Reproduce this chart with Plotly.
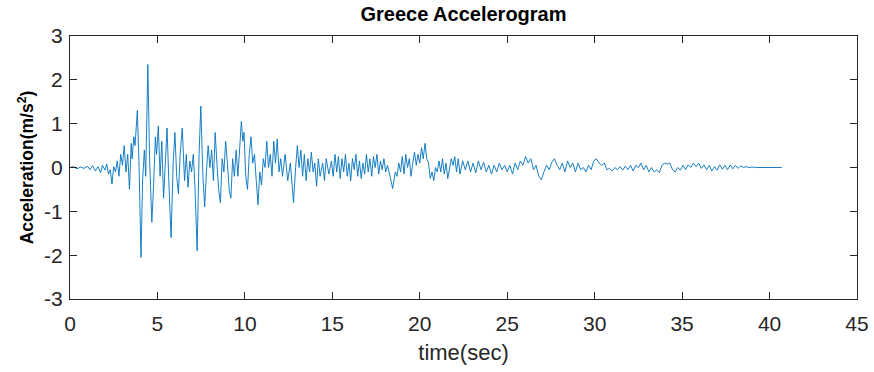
import plotly.graph_objects as go

# (time in s, acceleration in m/s^2)
samples = [
    (0.0, 0.0), (0.2, 0.02), (0.4, -0.03), (0.6, 0.01), (0.8, -0.02), (1.0, 0.03), (1.15, -0.05),
    (1.3, 0.04), (1.45, -0.08), (1.6, 0.02), (1.75, -0.12), (1.85, 0.05), (2.0, -0.06), (2.1, 0.08),
    (2.2, -0.15), (2.3, -0.05), (2.4, -0.38), (2.5, 0.02), (2.6, -0.1), (2.7, 0.15), (2.8, -0.2),
    (2.9, 0.3), (3.0, 0.05), (3.1, 0.5), (3.2, -0.1), (3.3, 0.3), (3.4, -0.5), (3.5, 0.55),
    (3.55, 0.2), (3.65, 0.7), (3.72, 0.5), (3.85, 1.3), (3.95, 0.0), (4.06, -2.05), (4.15, -0.3),
    (4.25, 0.4), (4.33, -0.2), (4.45, 2.35), (4.55, 0.2), (4.68, -1.25), (4.78, -0.4), (4.88, 0.7),
    (4.95, 0.3), (5.05, 0.95), (5.15, -0.2), (5.25, 0.6), (5.35, -0.7), (5.45, 0.3), (5.55, 0.9),
    (5.65, -0.3), (5.78, -1.6), (5.9, 0.1), (6.0, 0.8), (6.1, -0.2), (6.2, -0.6), (6.3, 0.3),
    (6.42, 0.9), (6.55, -0.3), (6.65, 0.3), (6.75, -0.45), (6.85, 0.15), (6.95, -0.1), (7.05, 0.3),
    (7.15, -0.5), (7.27, -1.9), (7.38, 0.3), (7.48, 1.4), (7.6, -0.2), (7.7, -0.9), (7.8, -0.1),
    (7.9, 0.5), (8.0, 0.0), (8.1, 0.4), (8.2, -0.3), (8.3, 0.8), (8.4, 0.1), (8.5, -0.5),
    (8.6, -0.8), (8.7, 0.2), (8.8, -0.1), (8.9, 0.6), (9.0, 0.1), (9.1, -0.5), (9.2, -0.7),
    (9.3, 0.2), (9.4, -0.2), (9.5, 0.4), (9.6, -0.2), (9.7, 0.5), (9.8, 1.05), (9.88, 0.6),
    (9.95, 0.8), (10.05, -0.2), (10.15, -0.5), (10.25, 0.3), (10.35, 0.7), (10.45, 0.1), (10.55, 0.3),
    (10.65, -0.3), (10.75, -0.85), (10.85, -0.1), (10.95, -0.4), (11.05, 0.2), (11.15, 0.0), (11.25, 0.6),
    (11.35, 0.0), (11.45, 0.3), (11.55, -0.2), (11.65, 0.6), (11.75, 0.1), (11.85, 0.65), (11.95, -0.1),
    (12.05, 0.2), (12.15, -0.2), (12.3, 0.3), (12.45, -0.3), (12.6, 0.1), (12.78, -0.8), (12.9, 0.0),
    (13.0, 0.5), (13.1, 0.0), (13.2, 0.4), (13.3, -0.2), (13.4, 0.3), (13.5, -0.3), (13.6, 0.2),
    (13.7, -0.1), (13.8, 0.35), (13.9, -0.1), (14.0, 0.1), (14.1, -0.43), (14.2, 0.2), (14.3, -0.2),
    (14.45, 0.1), (14.55, -0.3), (14.65, 0.2), (14.8, -0.15), (14.95, 0.15), (15.05, -0.2), (15.15, 0.3),
    (15.25, -0.1), (15.35, 0.25), (15.45, -0.25), (15.55, 0.2), (15.65, -0.1), (15.75, 0.3), (15.85, -0.2),
    (15.95, 0.1), (16.05, -0.3), (16.15, 0.2), (16.25, -0.05), (16.35, 0.3), (16.45, -0.2), (16.55, 0.15),
    (16.65, -0.25), (16.75, 0.1), (16.85, -0.15), (16.95, 0.3), (17.05, -0.1), (17.15, 0.2), (17.25, -0.2),
    (17.35, 0.25), (17.45, 0.0), (17.55, 0.3), (17.65, -0.15), (17.75, 0.15), (17.85, -0.05), (17.95, 0.2),
    (18.05, -0.1), (18.15, 0.05), (18.3, -0.2), (18.45, -0.48), (18.6, -0.1), (18.7, -0.2), (18.8, 0.1),
    (18.9, -0.1), (19.0, 0.25), (19.1, -0.15), (19.2, 0.3), (19.3, 0.0), (19.4, 0.2), (19.5, -0.2),
    (19.6, 0.1), (19.7, 0.35), (19.8, 0.05), (19.9, 0.3), (20.0, 0.1), (20.1, 0.45), (20.2, 0.2),
    (20.3, 0.55), (20.4, 0.2), (20.5, 0.1), (20.6, -0.25), (20.7, -0.1), (20.8, -0.3), (20.9, 0.0),
    (21.0, -0.1), (21.1, 0.15), (21.2, -0.1), (21.3, 0.2), (21.4, -0.15), (21.5, 0.1), (21.6, -0.25),
    (21.7, 0.0), (21.8, 0.2), (21.9, 0.05), (22.0, 0.25), (22.1, -0.1), (22.2, 0.2), (22.3, -0.15),
    (22.45, 0.15), (22.6, -0.05), (22.75, 0.15), (22.9, -0.1), (23.05, 0.1), (23.2, -0.12), (23.35, 0.15),
    (23.5, -0.05), (23.65, 0.12), (23.8, -0.1), (23.95, 0.05), (24.1, -0.15), (24.25, 0.05), (24.4, -0.1),
    (24.55, 0.1), (24.7, -0.05), (24.85, 0.05), (25.0, -0.1), (25.15, 0.05), (25.3, -0.15), (25.45, 0.1),
    (25.6, -0.05), (25.75, 0.15), (25.9, 0.05), (26.05, 0.25), (26.2, 0.1), (26.35, 0.2), (26.5, -0.05),
    (26.65, 0.05), (26.8, -0.2), (26.95, -0.28), (27.1, -0.1), (27.25, 0.05), (27.4, -0.05), (27.55, 0.12),
    (27.7, 0.2), (27.85, 0.05), (28.0, -0.05), (28.15, 0.1), (28.3, -0.1), (28.45, 0.15), (28.6, 0.0),
    (28.75, 0.1), (28.9, -0.1), (29.05, 0.1), (29.2, -0.05), (29.35, 0.0), (29.5, -0.1), (29.65, 0.05),
    (29.8, -0.05), (29.95, 0.15), (30.1, 0.2), (30.25, 0.1), (30.4, 0.05), (30.55, 0.1), (30.7, -0.05),
    (30.85, -0.02), (31.0, -0.08), (31.15, 0.0), (31.3, -0.05), (31.45, 0.02), (31.6, -0.06), (31.75, 0.03),
    (31.9, -0.05), (32.05, 0.05), (32.2, -0.08), (32.35, 0.05), (32.5, 0.0), (32.65, 0.1), (32.8, -0.05),
    (32.95, 0.05), (33.1, -0.1), (33.25, 0.0), (33.4, -0.1), (33.55, -0.05), (33.7, -0.12), (33.85, 0.05),
    (34.0, 0.1), (34.15, 0.08), (34.3, 0.1), (34.45, -0.05), (34.6, -0.1), (34.75, 0.0), (34.9, -0.06),
    (35.05, 0.05), (35.2, -0.05), (35.35, 0.06), (35.5, 0.0), (35.65, 0.1), (35.8, 0.02), (35.95, 0.1),
    (36.1, -0.02), (36.25, 0.06), (36.4, -0.05), (36.55, 0.05), (36.7, -0.08), (36.85, 0.02), (37.0, -0.06),
    (37.15, 0.06), (37.3, -0.04), (37.45, 0.05), (37.6, -0.05), (37.75, 0.06), (37.9, -0.03), (38.05, 0.05),
    (38.2, -0.02), (38.35, 0.04), (38.5, 0.0), (38.65, 0.02), (38.8, 0.0), (39.0, 0.01), (39.3, 0.0),
    (40.7, 0.0),
]
time_s = [p[0] for p in samples]
accel = [p[1] for p in samples]

x_ticks = [0, 5, 10, 15, 20, 25, 30, 35, 40, 45]
y_ticks = [-3, -2, -1, 0, 1, 2, 3]

FONT = "Liberation Sans, Arial, sans-serif"

fig = go.Figure(go.Scatter(x=time_s, y=accel, mode="lines",
                           line=dict(color="#0072BD", width=0.9), showlegend=False))

axis_common = dict(showline=True, linecolor="#262626", linewidth=1, mirror="ticks",
                   ticks="inside", ticklen=7, tickcolor="#262626", showgrid=False,
                   zeroline=False, tickfont=dict(family=FONT, size=21, color="#262626"))

fig.update_layout(
    width=874, height=372,
    margin=dict(l=70, r=17, t=36, b=73, autoexpand=False),
    plot_bgcolor="white", paper_bgcolor="white",
    title=dict(text="<b>Greece Accelerogram</b>", x=0.5, xref="paper", xanchor="center",
               y=1 - 14 / 372, yref="container", yanchor="middle",
               font=dict(family=FONT, size=20, color="black")),
    xaxis=dict(range=[0, 45], tickvals=x_ticks, ticktext=[str(v) for v in x_ticks],
               ticklabelstandoff=6,
               title=dict(text="time(sec)", standoff=10,
                          font=dict(family=FONT, size=22, color="#262626")),
               **axis_common),
    yaxis=dict(range=[-3, 3], tickvals=y_ticks, ticktext=[str(v) for v in y_ticks],
               ticklabelstandoff=2,
               title=dict(text="<b>Acceleration(m/s<sup>2</sup>)</b>", standoff=5,
                          font=dict(family=FONT, size=17.5, color="black")),
               **axis_common),
)

fig.write_html("out.html")
